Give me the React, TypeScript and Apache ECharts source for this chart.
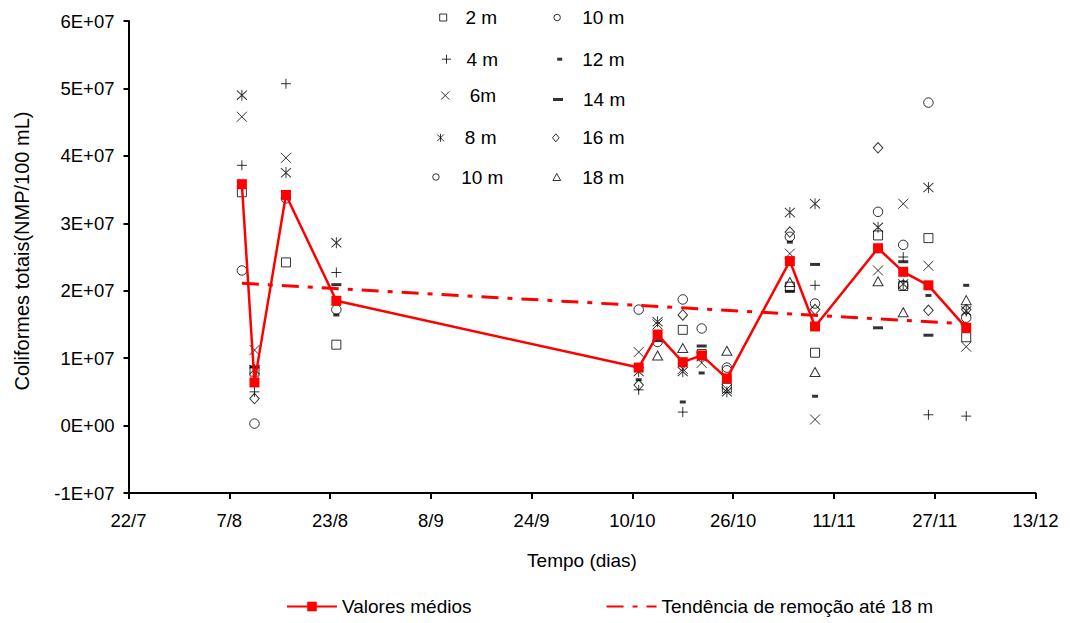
import React, { useEffect, useRef } from 'react';
import * as echarts from 'echarts';

// ---- data -----------------------------------------------------------------
const axisStart = '22/07';
const axisDays = 144;
const tickStepDays = 16;

const dates = ['09/08', '11/08', '16/08', '24/08', '11/10', '14/10', '18/10', '21/10', '25/10', '04/11', '08/11', '18/11', '22/11', '26/11', '02/12'];

const d2m = [34.6e6, 8.0e6, 24.2e6, 12.0e6, null, null, 14.2e6, 10.6e6, 5.6e6, 20.6e6, 10.8e6, 28.2e6, 20.7e6, 27.8e6, 13.1e6];
const d4m = [38.6e6, 5.0e6, 50.7e6, 22.7e6, 5.3e6, null, 2.0e6, null, null, null, 20.8e6, null, 25.0e6, 1.6e6, 1.4e6];
const d6m = [45.8e6, 11.2e6, 39.7e6, null, 10.9e6, 15.0e6, 8.4e6, 9.3e6, 5.4e6, 25.5e6, 0.9e6, 23.0e6, 32.9e6, 23.7e6, 11.7e6];
const d8m = [49.0e6, 8.3e6, 37.5e6, 27.1e6, 8.0e6, 15.4e6, 8.0e6, 10.2e6, 5.0e6, 31.6e6, 32.9e6, 29.4e6, 21.0e6, 35.3e6, 17.0e6];
const d10m = [23.0e6, 0.3e6, 33.7e6, 17.2e6, 17.2e6, 12.4e6, 18.7e6, 14.4e6, 8.6e6, 28.0e6, 18.1e6, 31.7e6, 26.8e6, 47.9e6, 16.0e6];
const d10mB = [null, null, null, null, null, null, null, null, 8.2e6, null, null, null, 20.8e6, null, null];
const d12m = [null, null, null, 16.4e6, 6.8e6, null, 3.5e6, 7.8e6, null, 27.2e6, 4.35e6, 25.8e6, null, 19.3e6, 20.8e6];
const d14m = [null, 8.7e6, null, 20.9e6, null, 12.6e6, null, 11.8e6, null, 19.9e6, 23.9e6, 14.5e6, 24.3e6, 13.4e6, null];
const d16m = [null, 4.0e6, null, null, 6.0e6, null, 16.4e6, null, null, 28.7e6, 17.2e6, 41.2e6, null, 17.1e6, 17.2e6];
const d18m = [null, null, null, null, null, 10.4e6, 11.5e6, null, 11.1e6, 21.3e6, 7.95e6, 21.4e6, 16.8e6, null, 18.6e6];

const meanValues = [35.8e6, 6.4e6, 34.2e6, 18.5e6, 8.6e6, 13.5e6, 9.4e6, 10.4e6, 7.0e6, 24.4e6, 14.7e6, 26.3e6, 22.8e6, 20.8e6, 14.5e6];

const trendDates = ['09/08', '02/12'];
const trendValues = [21.1e6, 15.1e6];

const yMin = -1e7;
const yMax = 6e7;
const yStep = 1e7;

// ---- helpers ----------------------------------------------------------------
const FONT = '"Liberation Sans", Arial, Helvetica, sans-serif';
const RED = '#ff0000';

function parseDM(s: string) {
  const [d, m] = s.split('/').map(Number);
  return Date.UTC(2001, m - 1, d);
}
const ORIGIN = parseDM(axisStart);
function dayOf(s: string) {
  return Math.round((parseDM(s) - ORIGIN) / 86400000);
}
function dayLabel(v: number) {
  const dt = new Date(ORIGIN + v * 86400000);
  return dt.getUTCDate() + '/' + (dt.getUTCMonth() + 1);
}
function sciLabel(v: number) {
  if (v === 0) return '0E+00';
  const a = Math.abs(v);
  const e = Math.floor(Math.log10(a) + 1e-9);
  const m = Math.round(a / Math.pow(10, e));
  return (v < 0 ? '-' : '') + m + 'E+' + String(e).padStart(2, '0');
}

const P_SQUARE = 'path://M0,0H10V10H0Z';
const P_PLUS = 'path://M5,0V10M0,5H10';
const P_X = 'path://M0,0L10,10M10,0L0,10';
const P_AST = 'path://M0,1L10,11M10,1L0,11M5,0V12';
const P_CIRCLE = 'path://M0,5A5,5,0,1,1,10,5A5,5,0,1,1,0,5Z';
const P_SDASH = 'path://M0,0H5V3H0Z';
const P_LDASH = 'path://M0,0H10V3H0Z';
const P_DIAMOND = 'path://M5,0L10,6L5,12L0,6Z';
const P_TRI = 'path://M5,0L10,9H0Z';

const hollow = { color: 'transparent', borderColor: '#000', borderWidth: 1 };
const solid = { color: '#000', borderWidth: 0 };

function pts(values: (number | null)[]) {
  const out: [number, number][] = [];
  values.forEach((v, i) => {
    if (v != null) out.push([dayOf(dates[i]), v]);
  });
  return out;
}

function depthSeries(name: string, values: (number | null)[], symbol: string, size: number[], filled: boolean) {
  return {
    type: 'scatter',
    name,
    data: pts(values),
    symbol,
    symbolSize: size,
    itemStyle: filled ? solid : hollow,
    silent: true,
    z: 2,
  };
}

// left = icon's left edge, top = text centre - 9.5
function legendItem(name: string, icon: string, filled: boolean, left: number, textCenterY: number, w: number, h: number) {
  return {
    show: true,
    orient: 'horizontal',
    left,
    top: textCenterY - 9.5,
    padding: 0,
    itemWidth: w,
    itemHeight: h,
    selectedMode: false,
    symbolKeepAspect: true,
    textStyle: { fontSize: 19, color: '#000', fontFamily: FONT },
    data: [{ name, icon, itemStyle: filled ? solid : hollow }],
  };
}

export default function App() {
  const ref = useRef<HTMLDivElement>(null);
  useEffect(() => {
    if (!ref.current) return;
    const chart = echarts.init(ref.current, null, { renderer: 'svg' });
    const option = {
      animation: false,
      backgroundColor: '#fff',
      textStyle: { fontFamily: FONT },
      grid: { left: 128.5, top: 21, width: 907, height: 472, containLabel: false },
      legend: [
        legendItem('2 m', P_SQUARE, false, 439.2, 17.5, 34.6, 7),
        legendItem('4 m', P_PLUS, false, 441.5, 59.2, 30, 9),
        legendItem('6m', P_X, false, 440.7, 95.5, 39.2, 8),
        legendItem('8 m', P_AST, false, 436.7, 137.8, 38.6, 8),
        legendItem('10 m', P_CIRCLE, false, 432.2, 177, 40.4, 6.5),
        legendItem('10 m', P_CIRCLE, false, 553.4, 17.5, 40, 6.5),
        legendItem('12 m', P_SDASH, true, 557.2, 59.2, 35.2, 3),
        legendItem('14 m', P_LDASH, true, 553, 99.5, 40, 3),
        legendItem('16 m', P_DIAMOND, false, 552, 137.8, 42.8, 8),
        legendItem('18 m', P_TRI, false, 552.4, 177, 40.8, 7),
        {
          show: true,
          orient: 'horizontal',
          left: 286,
          top: 597,
          padding: 0,
          itemWidth: 50,
          itemHeight: 12,
          itemGap: 134,
          selectedMode: false,
          textStyle: { fontSize: 19, color: '#000', fontFamily: FONT },
          data: [
            { name: 'Valores médios' },
            { name: 'Tendência de remoção até 18 m', itemStyle: { color: 'transparent', borderWidth: 0 } },
          ],
        },
      ],
      xAxis: {
        type: 'value',
        min: 0,
        max: axisDays,
        interval: tickStepDays,
        name: 'Tempo (dias)',
        nameLocation: 'middle',
        nameGap: 58,
        nameTextStyle: { fontSize: 19, color: '#000', fontFamily: FONT },
        axisLine: { show: true, onZero: false, lineStyle: { color: '#000', width: 2 } },
        axisTick: { show: true, length: 6, lineStyle: { color: '#000', width: 2 } },
        axisLabel: { formatter: dayLabel, color: '#000', fontSize: 18.5, margin: 18, fontFamily: FONT },
        splitLine: { show: false },
      },
      yAxis: {
        type: 'value',
        min: yMin,
        max: yMax,
        interval: yStep,
        name: 'Coliformes totais(NMP/100 mL)',
        nameLocation: 'middle',
        nameGap: 97,
        nameTextStyle: { fontSize: 20, color: '#000', fontFamily: FONT, padding: [0, 0, 0, 12] },
        axisLine: { show: true, lineStyle: { color: '#000', width: 2 } },
        axisTick: { show: true, length: 5, lineStyle: { color: '#000', width: 2 } },
        axisLabel: { formatter: sciLabel, color: '#000', fontSize: 18.5, margin: 14, fontFamily: FONT },
        splitLine: { show: false },
      },
      series: [
        depthSeries('2 m', d2m, P_SQUARE, [9, 9], false),
        depthSeries('4 m', d4m, P_PLUS, [10, 10], false),
        depthSeries('6m', d6m, P_X, [10, 10], false),
        depthSeries('8 m', d8m, P_AST, [10, 11], false),
        depthSeries('10 m', d10m, P_CIRCLE, [9.5, 9.5], false),
        depthSeries('10 m', d10mB, P_CIRCLE, [9.5, 9.5], false),
        depthSeries('12 m', d12m, P_SDASH, [6, 3], true),
        depthSeries('14 m', d14m, P_LDASH, [10, 3], true),
        depthSeries('16 m', d16m, P_DIAMOND, [9.5, 10.5], false),
        depthSeries('18 m', d18m, P_TRI, [10, 9], false),
        {
          type: 'line',
          name: 'Tendência de remoção até 18 m',
          data: trendDates.map((d, i) => [dayOf(d), trendValues[i]]),
          symbol: 'none',
          silent: true,
          lineStyle: { color: RED, width: 3, type: [17, 9, 5, 9] },
          itemStyle: { color: RED },
          z: 3,
        },
        {
          type: 'line',
          name: 'Valores médios',
          data: dates.map((d, i) => [dayOf(d), meanValues[i]]),
          symbol: 'rect',
          symbolSize: 10,
          showAllSymbol: true,
          silent: true,
          lineStyle: { color: RED, width: 2.5 },
          itemStyle: { color: RED },
          z: 4,
        },
      ],
    };
    chart.setOption(option as any);
    return () => chart.dispose();
  }, []);
  return <div ref={ref} style={{ position: 'absolute', left: 0, top: 0, width: 1070, height: 623 }} />;
}
